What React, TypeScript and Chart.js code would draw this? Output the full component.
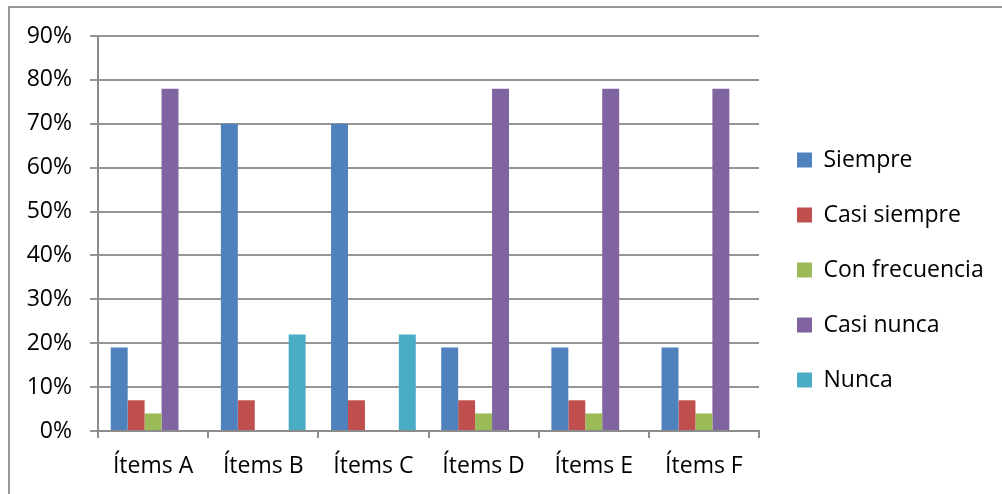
import React, { useEffect, useRef } from "react";
import { Chart, registerables } from "chart.js";

Chart.register(...registerables);

const categories = ["Ítems A", "Ítems B", "Ítems C", "Ítems D", "Ítems E", "Ítems F"];
const seriesNames = ["Siempre", "Casi siempre", "Con frecuencia", "Casi nunca", "Nunca"];
const siempre = [19, 70, 70, 19, 19, 19];
const casiSiempre = [7, 7, 7, 7, 7, 7];
const conFrecuencia = [4, 0, 0, 4, 4, 4];
const casiNunca = [78, 0, 0, 78, 78, 78];
const nunca = [0, 22, 22, 0, 0, 0];
const seriesColors = ["#4F81BD", "#C0504D", "#9BBB59", "#8064A2", "#4BACC6"];
const yTicks = [0, 10, 20, 30, 40, 50, 60, 70, 80, 90];

const FONT = "'Open Sans', sans-serif";
const FONT_SIZE = 23;
const CANVAS_W = 992;
const CANVAS_H = 496;
const LEGEND_PAD = 32;
const LEGEND_SHIFT = 6;
const BOX = 15;
// target plot area in canvas pixels
const AREA = { left: 88, top: 28, right: 749, bottom: 423 };

const legendShift = {
  id: "legendShift",
  afterLayout(chart: any) {
    const lg = chart.legend;
    if (lg) {
      lg.left += LEGEND_SHIFT;
      lg.right += LEGEND_SHIFT;
    }
  },
};

export default function App() {
  const ref = useRef<HTMLCanvasElement>(null);
  useEffect(() => {
    document.body.style.margin = "0";
    document.body.style.overflow = "hidden";
    const canvas = ref.current!;
    const values = [siempre, casiSiempre, conFrecuencia, casiNunca, nunca];
    const layoutPad = { top: AREA.top, left: 0, right: 20, bottom: 0 };
    const sizes = { xHeight: CANVAS_H - AREA.bottom };

    const chart = new Chart(canvas, {
      type: "bar",
      data: {
        labels: categories,
        datasets: seriesNames.map((name, i) => ({
          label: name,
          data: values[i],
          backgroundColor: seriesColors[i],
          borderWidth: 0,
          barPercentage: 1,
          categoryPercentage: 5 / 6.5,
        })),
      },
      plugins: [legendShift],
      options: {
        responsive: false,
        animation: false,
        layout: { padding: layoutPad },
        plugins: {
          tooltip: { enabled: false },
          legend: {
            position: "right",
            labels: {
              font: { family: FONT, size: FONT_SIZE },
              color: "#000",
              boxWidth: BOX,
              boxHeight: BOX,
              padding: LEGEND_PAD,
            },
          },
        },
        scales: {
          x: {
            afterFit: (s: any) => {
              s.height = sizes.xHeight;
              s.paddingLeft = 0;
              s.paddingRight = 0;
            },
            grid: {
              display: true,
              drawOnChartArea: false,
              drawTicks: true,
              tickLength: 7,
              color: "#8c8c8c",
              lineWidth: 2,
              offset: true,
            },
            border: { display: true, color: "#8c8c8c", width: 2 },
            ticks: {
              font: { family: FONT, size: FONT_SIZE },
              color: "#000",
              padding: 15,
              maxRotation: 0,
            },
          },
          y: {
            min: 0,
            max: 90,
            afterFit: (s: any) => {
              s.width = AREA.left;
              s.paddingTop = 0;
              s.paddingBottom = 0;
            },
            afterBuildTicks: (s: any) => {
              s.ticks = yTicks.map((v) => ({ value: v }));
            },
            grid: {
              color: "#959595",
              lineWidth: 2,
              tickLength: 8,
              drawTicks: true,
            },
            border: { display: true, color: "#8c8c8c", width: 2 },
            ticks: {
              font: { family: FONT, size: FONT_SIZE },
              color: "#000",
              padding: 18,
              callback: (v: any) => `${v}%`,
            },
          },
        },
      },
    });

    // nudge the layout so the plot area lands where the reference has it
    for (let k = 0; k < 3; k++) {
      const ca = chart.chartArea;
      const dTop = ca.top - AREA.top;
      const dRight = ca.right - AREA.right;
      const dBottom = ca.bottom - AREA.bottom;
      if (Math.abs(dTop) < 0.5 && Math.abs(dRight) < 0.5 && Math.abs(dBottom) < 0.5) break;
      layoutPad.top -= dTop;
      layoutPad.right += dRight;
      sizes.xHeight += dBottom;
      (chart.options as any).layout.padding = { ...layoutPad };
      chart.update();
    }
    return () => chart.destroy();
  }, []);

  return (
    <div
      style={{
        position: "absolute",
        left: 8,
        top: 6,
        width: 1100,
        height: 600,
        border: "2px solid #999",
        background: "#fff",
      }}
    >
      <canvas ref={ref} width={CANVAS_W} height={CANVAS_H} style={{ display: "block" }} />
    </div>
  );
}
